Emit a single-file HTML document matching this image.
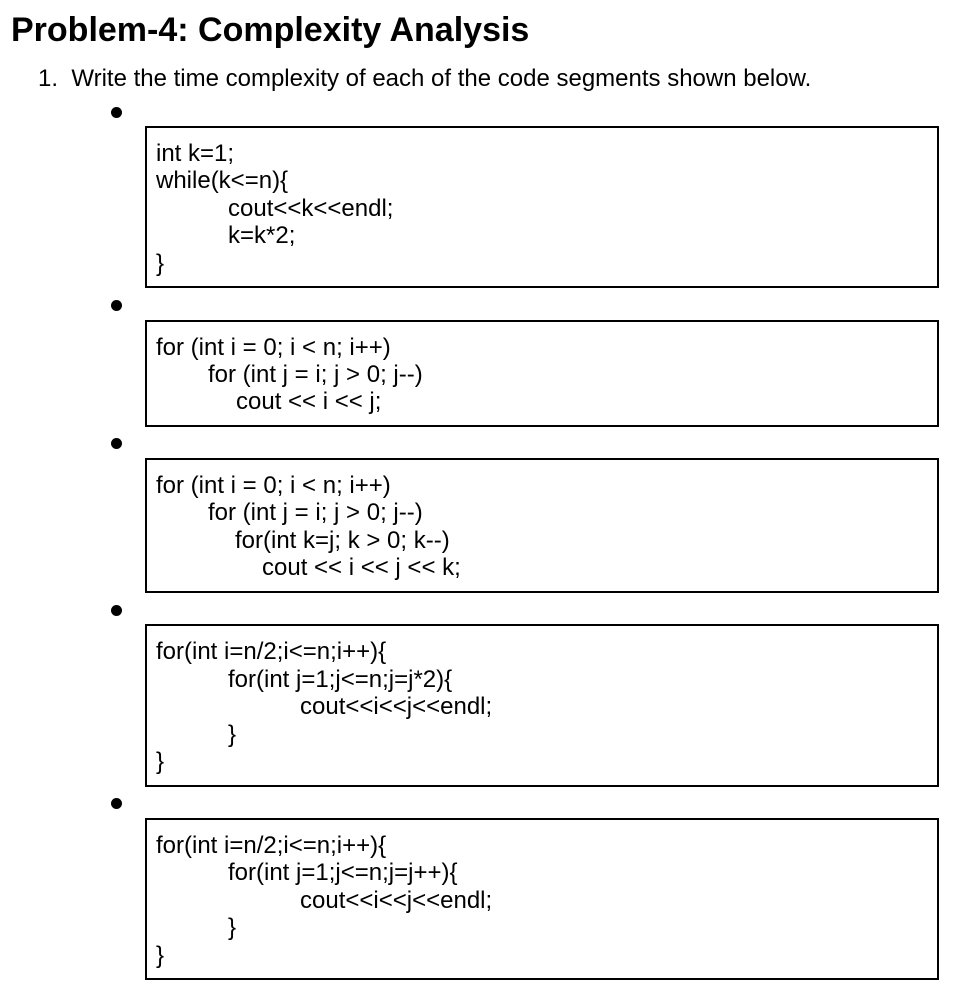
<!DOCTYPE html>
<html><head><meta charset="utf-8">
<style>
body{margin:0;width:964px;height:1000px;background:#fff;position:relative;font-family:"Liberation Sans",Arial,sans-serif;color:#000;overflow:hidden}
.a{position:absolute;white-space:pre;line-height:27px}
.box{position:absolute;left:145px;width:790px;border:2px solid #000;box-sizing:content-box}
.code{font-size:24px}
.dot{position:absolute;left:111px;width:11px;height:11px;border-radius:50%;background:#000}
</style></head><body>
<div class="a" style="left:11px;top:10px;font-size:34px;font-weight:bold;line-height:40px">Problem-4: Complexity Analysis</div>
<div class="a" style="left:38px;top:65px;font-size:24px">1.  Write the time complexity of each of the code segments shown below.</div>

<div class="dot" style="top:107px"></div>
<div class="box" style="top:126px;height:158px"></div>
<div class="a code" style="left:156px;top:140px">int k=1;</div>
<div class="a code" style="left:156px;top:167px">while(k&lt;=n){</div>
<div class="a code" style="left:228px;top:195px">cout&lt;&lt;k&lt;&lt;endl;</div>
<div class="a code" style="left:228px;top:222px">k=k*2;</div>
<div class="a code" style="left:156px;top:250px">}</div>

<div class="dot" style="top:300px"></div>
<div class="box" style="top:320px;height:103px"></div>
<div class="a code" style="left:156px;top:334px">for (int i = 0; i &lt; n; i++)</div>
<div class="a code" style="left:208px;top:361px">for (int j = i; j &gt; 0; j--)</div>
<div class="a code" style="left:236px;top:388px">cout &lt;&lt; i &lt;&lt; j;</div>

<div class="dot" style="top:438px"></div>
<div class="box" style="top:458px;height:131px"></div>
<div class="a code" style="left:156px;top:472px">for (int i = 0; i &lt; n; i++)</div>
<div class="a code" style="left:208px;top:499px">for (int j = i; j &gt; 0; j--)</div>
<div class="a code" style="left:235px;top:527px">for(int k=j; k &gt; 0; k--)</div>
<div class="a code" style="left:262px;top:554px">cout &lt;&lt; i &lt;&lt; j &lt;&lt; k;</div>

<div class="dot" style="top:605px"></div>
<div class="box" style="top:624px;height:159px"></div>
<div class="a code" style="left:156px;top:638px">for(int i=n/2;i&lt;=n;i++){</div>
<div class="a code" style="left:228px;top:666px">for(int j=1;j&lt;=n;j=j*2){</div>
<div class="a code" style="left:300px;top:693px">cout&lt;&lt;i&lt;&lt;j&lt;&lt;endl;</div>
<div class="a code" style="left:228px;top:721px">}</div>
<div class="a code" style="left:156px;top:748px">}</div>

<div class="dot" style="top:798px"></div>
<div class="box" style="top:818px;height:158px"></div>
<div class="a code" style="left:156px;top:832px">for(int i=n/2;i&lt;=n;i++){</div>
<div class="a code" style="left:228px;top:859px">for(int j=1;j&lt;=n;j=j++){</div>
<div class="a code" style="left:300px;top:887px">cout&lt;&lt;i&lt;&lt;j&lt;&lt;endl;</div>
<div class="a code" style="left:228px;top:914px">}</div>
<div class="a code" style="left:156px;top:942px">}</div>
</body></html>
